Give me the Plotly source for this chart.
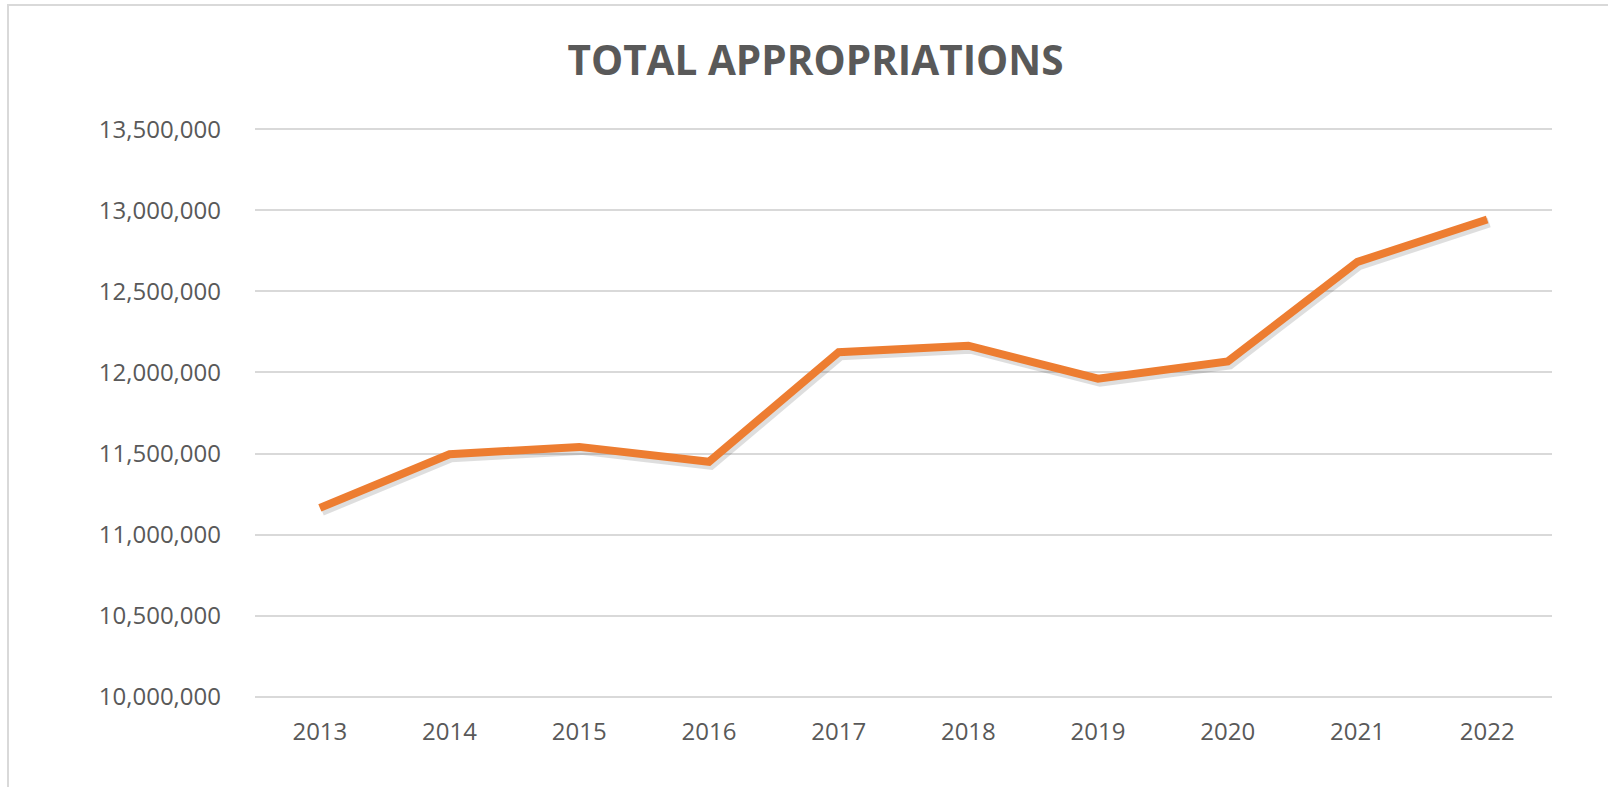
import plotly.graph_objects as go

years = ["2013", "2014", "2015", "2016", "2017", "2018", "2019", "2020", "2021", "2022"]
appropriations = [11165000, 11496000, 11541000, 11449000, 12125000, 12165000, 11962000, 12068000, 12682000, 12943000]
y_ticks = [10000000, 10500000, 11000000, 11500000, 12000000, 12500000, 13000000, 13500000]
y_tick_labels = ["{:,}".format(v) for v in y_ticks]
title_text = "TOTAL APPROPRIATIONS"

W, H = 1608, 787
L, R, T, B = 255, 56, 126, 87
plot_w = W - L - R
plot_h = H - T - B
y_lo, y_hi = 9980000, 13520000
per_px = (y_hi - y_lo) / plot_h
x_lo, x_hi = -0.5, 9.5
cat_px = (x_hi - x_lo) / plot_w

fig = go.Figure()
# base trace (transparent) anchors the main axes that carry grid and tick labels
fig.add_trace(go.Scatter(
    x=years, y=appropriations, mode="lines",
    line=dict(color="rgba(0,0,0,0)", width=1), hoverinfo="skip", showlegend=False))
# soft shadow under the line (same data, axes nudged a few pixels)
fig.add_trace(go.Scatter(
    x=years, y=appropriations, mode="lines", xaxis="x2", yaxis="y2",
    line=dict(color="rgba(0,0,0,0.13)", width=10), hoverinfo="skip", showlegend=False))
fig.add_trace(go.Scatter(
    x=years, y=appropriations, mode="lines", xaxis="x3", yaxis="y3",
    line=dict(color="#ED7D31", width=8), showlegend=False))

font_fam = "Open Sans, Lato, sans-serif"
fig.update_layout(
    width=W, height=H,
    margin=dict(l=L, r=R, t=T, b=B),
    paper_bgcolor="white", plot_bgcolor="white",
    title=dict(text="<b>" + title_text + "</b>", x=815.5 / W, xref="container", xanchor="center",
               y=1 - 61 / H, yref="container", yanchor="middle",
               font=dict(family=font_fam, size=40.5, color="#595959")),
    xaxis=dict(type="category", range=[x_lo, x_hi], showgrid=False, showline=False, zeroline=False,
               ticks="", ticklabelstandoff=15, categoryarray=years, categoryorder="array",
               tickfont=dict(family=font_fam, size=24, color="#595959")),
    yaxis=dict(range=[y_lo, y_hi], tickvals=y_ticks, ticktext=y_tick_labels,
               showgrid=True, gridcolor="#D9D9D9", gridwidth=1.6, zeroline=False, showline=False,
               ticks="", ticklabelstandoff=33,
               tickfont=dict(family=font_fam, size=24, color="#595959")),
    xaxis2=dict(type="category", overlaying="x", range=[x_lo - 2 * cat_px, x_hi - 2 * cat_px],
                visible=False, categoryarray=years, categoryorder="array"),
    yaxis2=dict(overlaying="y", range=[y_lo + 3 * per_px, y_hi + 3 * per_px], visible=False),
    xaxis3=dict(type="category", overlaying="x", range=[x_lo, x_hi],
                visible=False, categoryarray=years, categoryorder="array"),
    yaxis3=dict(overlaying="y", range=[y_lo, y_hi], visible=False),
    shapes=[dict(type="rect", xref="paper", yref="paper",
                 x0=(8 - L) / plot_w, x1=(1700 - L) / plot_w,
                 y0=(T + plot_h - 850) / plot_h, y1=(T + plot_h - 5) / plot_h,
                 line=dict(color="#D9D9D9", width=2), fillcolor="rgba(0,0,0,0)", layer="below")],
)

fig.write_html("out.html", config={"displayModeBar": False},
               post_script="document.body.style.margin='0';")
